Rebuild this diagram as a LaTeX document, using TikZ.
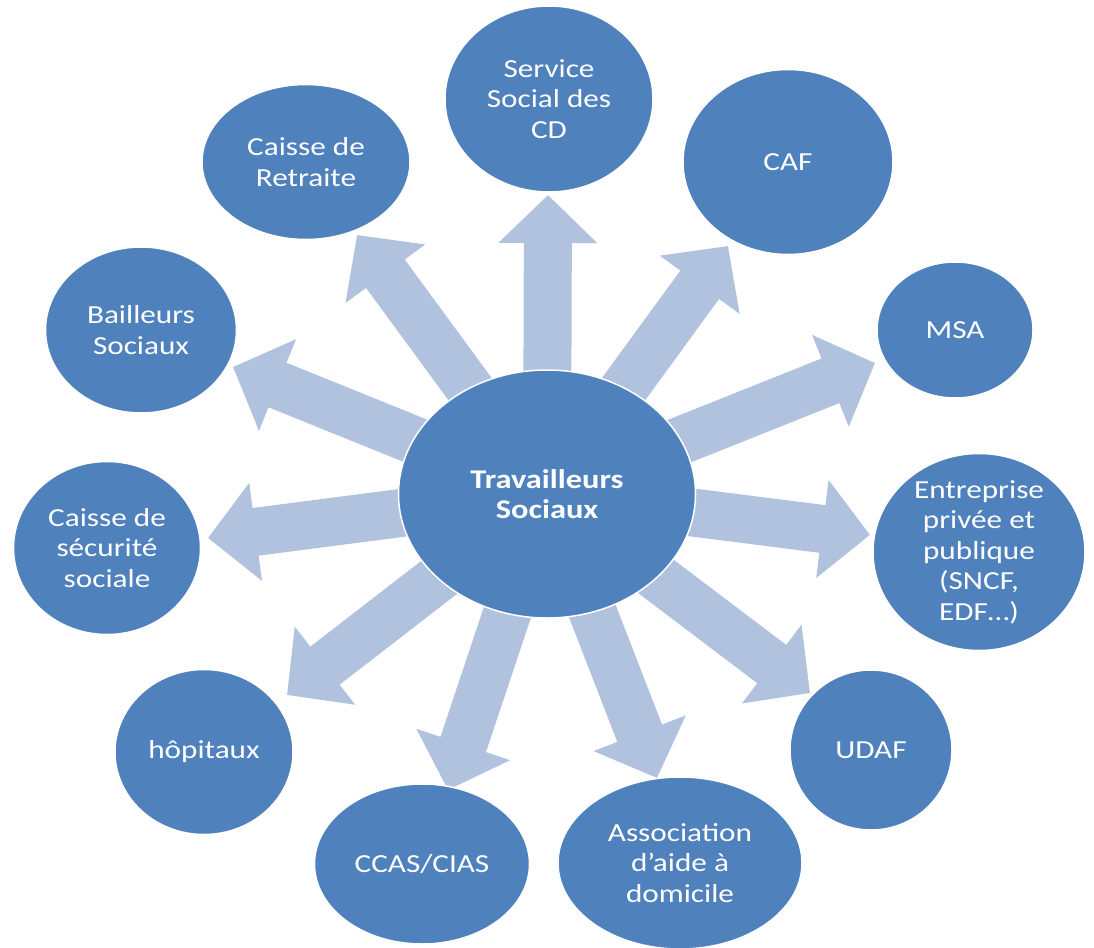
\documentclass[tikz,border=0pt]{standalone}
\usepackage{fontspec}
\setmainfont{Carlito}[FakeStretch=1.2]
\usetikzlibrary{arrows.meta,shapes.geometric}
\definecolor{nodeblue}{RGB}{79,129,189}
\definecolor{arrowblue}{RGB}{177,194,222}
\begin{document}
\begin{tikzpicture}[x=1pt,y=-1pt,
  bub/.style={ellipse, fill=nodeblue, draw=white, line width=1.5pt, inner sep=0pt},
  lbl/.style={text=white, align=center, inner sep=0pt, font=\fontsize{26}{30.5}\selectfont},
  clbl/.style={text=white, align=center, inner sep=0pt, font=\fontsize{27}{30}\selectfont\bfseries},
  bigarrow/.style={draw=arrowblue, line width=48pt, -{Triangle[width=96pt,length=48pt]}}]
\useasboundingbox (0,0) rectangle (1094,947);

% arrow tips
\coordinate (t1) at (548,195);
\coordinate (t2) at (728,246);
\coordinate (t3) at (875,363);
\coordinate (t4) at (870,535);
\coordinate (t5) at (810,693);
\coordinate (t6) at (657,778);
\coordinate (t7) at (448,790);
\coordinate (t8) at (287,695);
\coordinate (t9) at (208,538);
\coordinate (t10) at (233,367);
\coordinate (t11) at (357,235);
\coordinate (o) at (547,494);

\foreach \t in {t1,t2,t3,t4,t5,t6,t7,t8,t9,t10,t11}
  \draw[bigarrow] (o) -- (\t);

% central node
\node[bub, minimum width=297pt, minimum height=248pt,
  label={[clbl]center:Travailleurs\\Sociaux}] (c) at (o) {};

% outer nodes
\node[bub, minimum width=208pt, minimum height=186pt,
  label={[lbl]center:Service\\Social des\\CD}] (svc) at (549,99) {};
\node[bub, minimum width=210pt, minimum height=185pt,
  label={[lbl]center:CAF}] (caf) at (788,162) {};
\node[bub, minimum width=156pt, minimum height=136pt,
  label={[lbl]center:MSA}] (msa) at (955,330) {};
\node[bub, minimum width=212pt, minimum height=197pt,
  label={[lbl]center:Entreprise\\privée et\\publique\\(SNCF,\\EDF…)}] (ent) at (979,552) {};
\node[bub, minimum width=162pt, minimum height=160pt,
  label={[lbl]center:UDAF}] (udaf) at (871,750) {};
\node[bub, minimum width=244pt, minimum height=172pt,
  label={[lbl]center:Association\\d’aide à\\domicile}] (assoc) at (680,863) {};
\node[bub, minimum width=215pt, minimum height=160pt,
  label={[lbl]center:CCAS/CIAS}] (ccas) at (422,864) {};
\node[bub, minimum width=178pt, minimum height=165pt,
  label={[lbl]center:hôpitaux}] (hop) at (204,752) {};
\node[bub, minimum width=187pt, minimum height=173pt,
  label={[lbl]center:Caisse de\\sécurité\\sociale}] (secu) at (107,548) {};
\node[bub, minimum width=191pt, minimum height=166pt,
  label={[lbl]center:Bailleurs\\Sociaux}] (bail) at (141,330) {};
\node[bub, minimum width=208pt, minimum height=155pt,
  label={[lbl]center:Caisse de\\Retraite}] (ret) at (306,162) {};
\end{tikzpicture}
\end{document}
